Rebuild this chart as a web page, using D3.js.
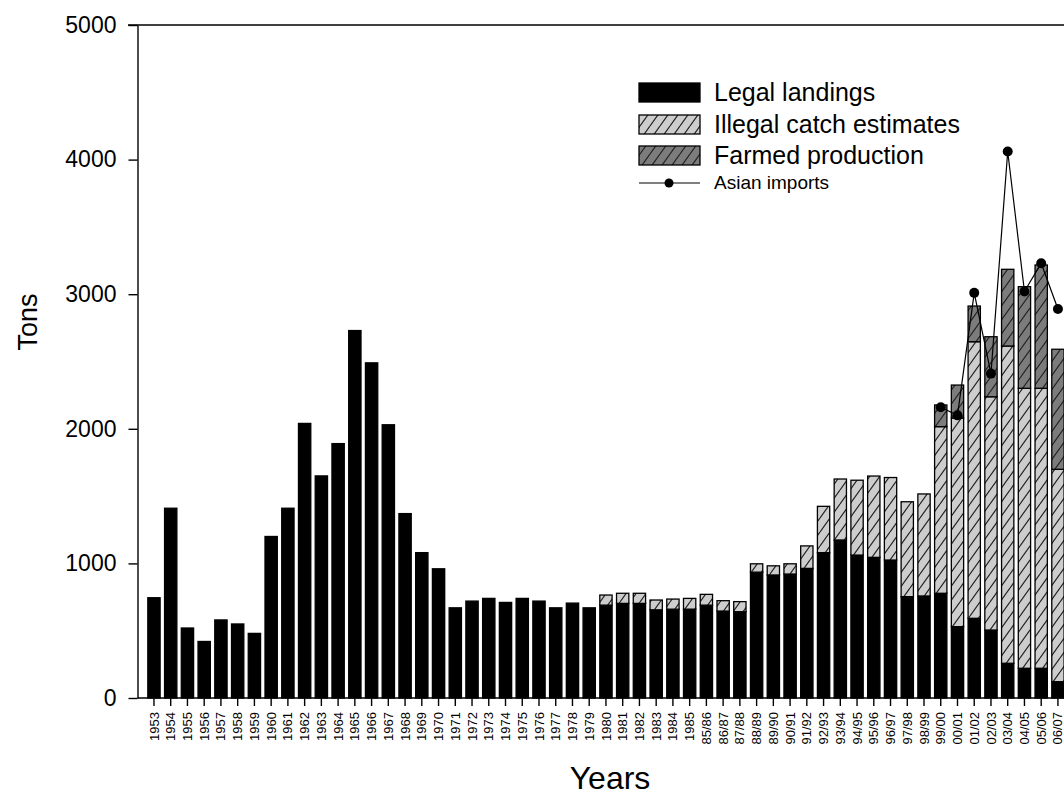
<!DOCTYPE html>
<html>
<head>
<meta charset="utf-8">
<script src="https://cdn.jsdelivr.net/npm/d3@7"></script>
<style>
  body { margin: 0; background: #fff; }
  svg { display: block; font-family: "Liberation Sans", Arial, sans-serif; }
</style>
</head>
<body>
<div id="chart"></div>
<script>
// seasons on the x axis
const years = ["1953","1954","1955","1956","1957","1958","1959","1960","1961","1962",
  "1963","1964","1965","1966","1967","1968","1969","1970","1971","1972","1973","1974",
  "1975","1976","1977","1978","1979","1980","1981","1982","1983","1984","1985",
  "85/86","86/87","87/88","88/89","89/90","90/91","91/92","92/93","93/94","94/95",
  "95/96","96/97","97/98","98/99","99/00","00/01","01/02","02/03","03/04","04/05",
  "05/06","06/07"];

const legal = [745,1410,520,420,580,550,480,1200,1410,2040,
  1650,1890,2730,2490,2030,1370,1080,960,670,720,740,710,
  740,720,670,705,670,690,703,703,655,660,660,
  690,646,641,935,914,921,963,1080,1174,1062,
  1045,1025,753,758,778,530,592,505,258,221,
  221,121];

const illegal = [0,0,0,0,0,0,0,0,0,0,
  0,0,0,0,0,0,0,0,0,0,0,0,
  0,0,0,0,0,75,75,75,73,75,80,
  80,77,75,62,68,76,167,344,453,556,
  604,613,705,758,1238,1550,2055,1733,2357,2080,
  2080,1578];

const farmed = [0,0,0,0,0,0,0,0,0,0,
  0,0,0,0,0,0,0,0,0,0,0,0,
  0,0,0,0,0,0,0,0,0,0,0,
  0,0,0,0,0,0,0,0,0,0,
  0,0,0,0,161,245,265,446,570,755,
  916,892];

const importYears = ["99/00","00/01","01/02","02/03","03/04","04/05","05/06","06/07"];
const imports = [2160,2100,3010,2410,4060,3020,3230,2890];

const yTicks = [0,1000,2000,3000,4000,5000];

let w = 1064, h = 796;
let padLeft = 137.5, padTop = 25, axisY = 698;

let svg = d3.select("#chart").append("svg")
  .attr("width", w).attr("height", h);

svg.append("rect").attr("width", w).attr("height", h).attr("fill", "#fff");

let defs = svg.append("defs");
function hatch(id, bg) {
  let p = defs.append("pattern").attr("id", id)
    .attr("patternUnits", "userSpaceOnUse")
    .attr("width", 10).attr("height", 14);
  p.append("rect").attr("width", 10).attr("height", 14).attr("fill", bg);
  p.append("path").attr("d", "M-10,14 L0,0 M0,14 L10,0 M10,14 L20,0")
    .attr("stroke", "#222").attr("stroke-width", 1.2);
}
hatch("hatchIllegal", "#cdcdcd");
hatch("hatchFarmed", "#7c7c7c");

let x = d3.scaleBand().domain(years)
  .range([145.6, 145.6 + years.length * 16.74])
  .paddingInner(0.265).paddingOuter(0.1325);
let y = d3.scaleLinear().domain([0, 5000]).range([axisY, padTop]);

let rows = years.map((yr, i) => ({ year: yr, legal: legal[i], illegal: illegal[i], farmed: farmed[i] }));
let stack = d3.stack().keys(["legal", "illegal", "farmed"])(rows);
let fills = { legal: "#000", illegal: "url(#hatchIllegal)", farmed: "url(#hatchFarmed)" };

svg.append("g").selectAll("g").data(stack).enter().append("g")
  .attr("fill", d => fills[d.key])
  .selectAll("rect").data(d => d.filter(s => s[1] > s[0])).enter().append("rect")
  .attr("x", d => x(d.data.year))
  .attr("y", d => y(d[1]))
  .attr("width", x.bandwidth())
  .attr("height", d => y(d[0]) - y(d[1]))
  .attr("stroke", "#000").attr("stroke-width", 1.3);

// Asian imports line
let pts = importYears.map((yr, i) => [x(yr) + x.bandwidth() / 2, y(imports[i])]);
svg.append("path").attr("d", d3.line()(pts))
  .attr("fill", "none").attr("stroke", "#000").attr("stroke-width", 1.2);
svg.append("g").selectAll("circle").data(pts).enter().append("circle")
  .attr("cx", d => d[0]).attr("cy", d => d[1]).attr("r", 5).attr("fill", "#000");

// axes
let yAxis = d3.axisLeft(y).tickValues(yTicks).tickFormat(d3.format("d"))
  .tickSize(9).tickSizeOuter(0).tickPadding(12);
svg.append("g").attr("transform", "translate(" + padLeft + ",0)").call(yAxis)
  .call(g => g.selectAll("text").style("font-size", "23px").attr("fill", "#000"))
  .call(g => g.selectAll("line,path").attr("stroke", "#000").attr("stroke-width", 1.4));

let xAxis = d3.axisBottom(x).tickSize(8).tickSizeOuter(0);
svg.append("g").attr("transform", "translate(0," + axisY + ")").call(xAxis)
  .call(g => g.select(".domain").attr("d", "M" + padLeft + ",0H" + w))
  .call(g => g.selectAll("line,path").attr("stroke", "#000").attr("stroke-width", 1.4))
  .call(g => g.selectAll("text")
    .attr("x", -14).attr("y", 0).attr("dy", "0.35em")
    .attr("transform", "rotate(-90)")
    .style("text-anchor", "end").style("font-size", "13px").attr("fill", "#000"));

// top frame line
svg.append("line").attr("x1", 128).attr("x2", w).attr("y1", padTop).attr("y2", padTop)
  .attr("stroke", "#000").attr("stroke-width", 1.4);

// axis titles
svg.append("text").attr("x", 610).attr("y", 789).attr("text-anchor", "middle")
  .style("font-size", "32px").text("Years");
svg.append("text").attr("transform", "translate(37,322) rotate(-90)")
  .attr("text-anchor", "middle").style("font-size", "27px").text("Tons");

// legend
let legend = svg.append("g");
let boxes = [
  { label: "Legal landings", fill: "#000", y: 83 },
  { label: "Illegal catch estimates", fill: "url(#hatchIllegal)", y: 115 },
  { label: "Farmed production", fill: "url(#hatchFarmed)", y: 146 }
];
legend.selectAll("rect").data(boxes).enter().append("rect")
  .attr("x", 639).attr("y", d => d.y).attr("width", 61).attr("height", 19)
  .attr("fill", d => d.fill).attr("stroke", "#000").attr("stroke-width", 1.3);
legend.selectAll("text.lg").data(boxes).enter().append("text")
  .attr("x", 714).attr("y", d => d.y + 18)
  .style("font-size", "25px").text(d => d.label);
legend.append("line").attr("x1", 639).attr("x2", 700).attr("y1", 183).attr("y2", 183)
  .attr("stroke", "#000").attr("stroke-width", 1.2);
legend.append("circle").attr("cx", 669).attr("cy", 183).attr("r", 4.5).attr("fill", "#000");
legend.append("text").attr("x", 714).attr("y", 189).style("font-size", "19px").text("Asian imports");
</script>
</body>
</html>
